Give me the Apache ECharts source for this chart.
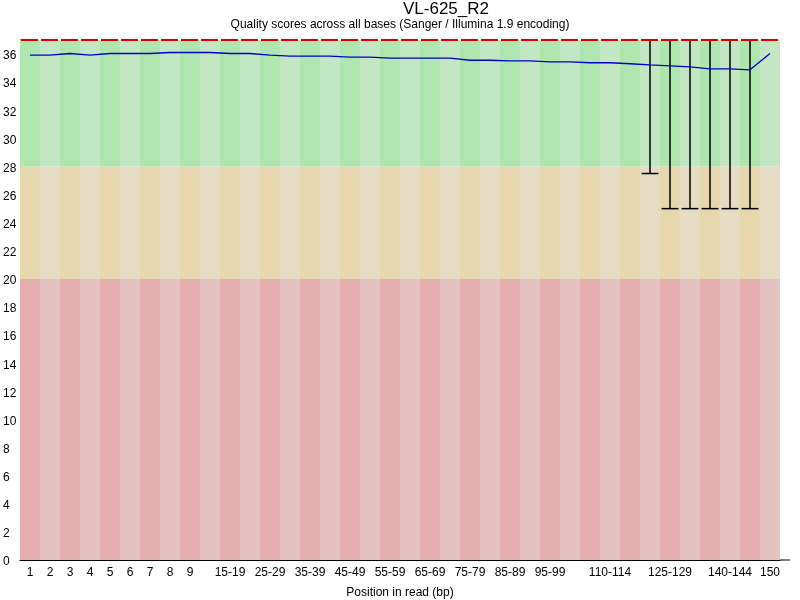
<!DOCTYPE html>
<html>
<head>
<meta charset="utf-8">
<script src="https://cdn.jsdelivr.net/npm/echarts@6/dist/echarts.min.js"></script>
<style>
html,body{margin:0;padding:0;background:#fff;}
#chart{width:800px;height:600px;}
</style>
</head>
<body>
<div id="chart"></div>
<script>
// per-base positions (fastqc style grouping)
var positions = ['1','2','3','4','5','6','7','8','9',
	'10-14','15-19','20-24','25-29','30-34','35-39','40-44','45-49','50-54','55-59',
	'60-64','65-69','70-74','75-79','80-84','85-89','90-94','95-99','100-104','105-109',
	'110-114','115-119','120-124','125-129','130-134','135-139','140-144','145-149','150'];
// labels that are actually printed under the axis
var shownLabels = ['1','2','3','4','5','6','7','8','9','15-19','25-29','35-39','45-49',
	'55-59','65-69','75-79','85-89','95-99','110-114','125-129','140-144','150'];

var meanQuality = [35.92,35.92,36.04,35.92,36.04,36.04,36.04,36.11,36.11,36.11,
	36.04,36.04,35.92,35.85,35.85,35.85,35.78,35.78,35.71,35.71,
	35.71,35.71,35.56,35.56,35.52,35.52,35.45,35.45,35.38,35.38,
	35.31,35.23,35.16,35.09,34.95,34.95,34.88,36.04];
var medianQuality = [37,37,37,37,37,37,37,37,37,37,37,37,37,37,37,37,37,37,37,
	37,37,37,37,37,37,37,37,37,37,37,37,37,37,37,37,37,37,37];
var lowerWhisker = [37,37,37,37,37,37,37,37,37,37,37,37,37,37,37,37,37,37,37,
	37,37,37,37,37,37,37,37,37,37,37,37,27.5,25,25,25,25,25,37];
var upperWhisker = [37,37,37,37,37,37,37,37,37,37,37,37,37,37,37,37,37,37,37,
	37,37,37,37,37,37,37,37,37,37,37,37,37,37,37,37,37,37,37];

// quality zones: bad < 20 <= warn < 28 <= good
var zoneBounds = [0, 20, 28, 37];

var FONT = 'Liberation Sans, Arial, sans-serif';

function bandData(size, dark, light) {
	var arr = [];
	for (var i = 0; i < positions.length; i++) {
		arr.push({value: size, itemStyle: {color: i % 2 == 0 ? dark : light}});
	}
	return arr;
}

var boxData = [];
for (var i = 0; i < positions.length; i++) {
	boxData.push([i, lowerWhisker[i], upperWhisker[i], medianQuality[i]]);
}

var myChart = echarts.init(document.getElementById('chart'));

var option = {
	animation: false,
	backgroundColor: '#fff',
	title: [{
		text: 'VL-625_R2',
		left: 403,
		top: 1,
		padding: 0,
		textStyle: {fontFamily: FONT, fontSize: 17, fontWeight: 'normal', color: '#000'}
	}, {
		text: 'Quality scores across all bases (Sanger / Illumina 1.9 encoding)',
		left: 'center',
		top: 19,
		padding: 0,
		textStyle: {fontFamily: FONT, fontSize: 12, fontWeight: 'normal', color: '#000'}
	}],
	grid: {left: 20, right: 20, top: 40, bottom: 40, outerBoundsMode: 'none', containLabel: false},
	xAxis: {
		type: 'category',
		data: positions,
		boundaryGap: true,
		axisTick: {show: false},
		axisLine: {lineStyle: {color: '#000', width: 1}},
		axisLabel: {
			interval: 0,
			margin: 7,
			color: '#000',
			fontFamily: FONT,
			fontSize: 12,
			formatter: function(v) { return shownLabels.indexOf(v) >= 0 ? v : ''; }
		},
		name: 'Position in read (bp)',
		nameLocation: 'middle',
		nameGap: 27,
		nameTextStyle: {fontFamily: FONT, fontSize: 12, color: '#000'},
		splitLine: {show: false}
	},
	yAxis: {
		type: 'value',
		min: 0,
		max: 37,
		interval: 2,
		axisTick: {show: false},
		axisLine: {show: true, lineStyle: {color: '#000', width: 1}},
		splitLine: {show: false},
		axisLabel: {
			showMaxLabel: false,
			align: 'left',
			verticalAlign: 'top',
			lineHeight: 4,
			margin: 17,
			color: '#000',
			fontFamily: FONT,
			fontSize: 12
		}
	},
	graphic: [{
		type: 'line',
		shape: {x1: 780, y1: 560, x2: 790, y2: 560},
		style: {stroke: '#000', lineWidth: 1}
	}],
	series: [{
		name: 'bad',
		type: 'bar',
		stack: 'zones',
		silent: true,
		barCategoryGap: '0%',
		data: bandData(zoneBounds[1] - zoneBounds[0], '#E6AFAF', '#E6C3C3'),
		z: 1
	}, {
		name: 'warn',
		type: 'bar',
		stack: 'zones',
		silent: true,
		barCategoryGap: '0%',
		data: bandData(zoneBounds[2] - zoneBounds[1], '#E6D7AF', '#E6DCC3'),
		z: 1
	}, {
		name: 'good',
		type: 'bar',
		stack: 'zones',
		silent: true,
		barCategoryGap: '0%',
		data: bandData(zoneBounds[3] - zoneBounds[2], '#AFE6AF', '#C3E6C3'),
		z: 1
	}, {
		// whiskers (10% - 90%) and median
		name: 'box',
		type: 'custom',
		silent: true,
		clip: false,
		z: 3,
		data: boxData,
		encode: {x: 0, y: [1, 2, 3]},
		renderItem: function(params, api) {
			var idx = api.value(0);
			var lo = api.coord([idx, api.value(1)]);
			var hi = api.coord([idx, api.value(2)]);
			var med = api.coord([idx, api.value(3)]);
			var bw = api.size([1, 0])[0];
			var half = bw * 0.42;
			var x = lo[0];
			var black = {stroke: '#000', lineWidth: 1.5};
			var children = [];
			if (lo[1] - hi[1] > 0.5) {
				children.push({type: 'line', shape: {x1: x, y1: hi[1], x2: x, y2: lo[1]}, style: black});
				children.push({type: 'line', shape: {x1: x - half, y1: lo[1], x2: x + half, y2: lo[1]}, style: black});
			}
			children.push({type: 'line',
				shape: {x1: x - bw * 0.45, y1: med[1], x2: x + bw * 0.4, y2: med[1]},
				style: {stroke: '#DC0000', lineWidth: 2}});
			return {type: 'group', children: children};
		}
	}, {
		name: 'mean',
		type: 'line',
		data: meanQuality,
		symbol: 'none',
		silent: true,
		z: 4,
		lineStyle: {color: '#0000C8', width: 1.3}
	}]
};

myChart.setOption(option);
</script>
</body>
</html>
